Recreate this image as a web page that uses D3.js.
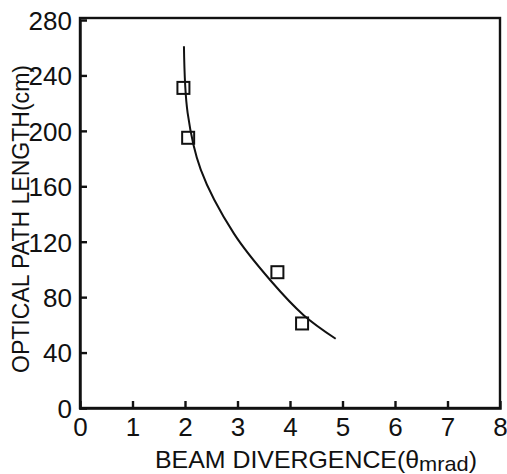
<!DOCTYPE html>
<html lang="en">
<head>
<meta charset="utf-8">
<title>Optical path length vs beam divergence</title>
<script src="https://cdn.jsdelivr.net/npm/d3@7"></script>
<style>
  body { margin: 0; background: white; }
  svg { display: block; background: white; }
  text {
    font-family: "Liberation Sans", Arial, sans-serif;
    fill: #111;
  }
  .axis path, .axis line { stroke: #111; stroke-width: 2.4; fill: none; }
  .frame { stroke: #111; stroke-width: 2.4; fill: none; }
  .fit { stroke: #111; stroke-width: 2; fill: none; }
  .pt { stroke: #111; stroke-width: 2; fill: none; }
</style>
</head>
<body>
<script>
// measured points (beam divergence mrad, path length cm)
var divergence = [1.97, 2.06, 3.76, 4.23];
var pathLength = [231, 195, 98, 61];

// hand drawn fitted curve
var curveX = [1.98, 2.05, 2.30, 2.93, 3.63, 4.26, 4.87];
var curveY = [261, 213, 172, 126, 92, 67, 50];

var xTicks = [0, 1, 2, 3, 4, 5, 6, 7, 8];
var yTicks = [0, 40, 80, 120, 160, 200, 240, 280];

var fullwidth = 507, fullheight = 474;
var margin = { top: 20, right: 7, bottom: 66, left: 80 };
var width = fullwidth - margin.left - margin.right;
var height = fullheight - margin.top - margin.bottom;

var svg = d3.select("body").append("svg")
    .attr("width", fullwidth)
    .attr("height", fullheight)
  .append("g")
    .attr("transform", "translate(" + margin.left + "," + margin.top + ")");

var xScale = d3.scaleLinear().domain([0, 8]).range([0, width]);
var yScale = d3.scaleLinear().domain([0, 280]).range([height, 0]);

// ticks point into the plot
var xAxis = d3.axisBottom(xScale).tickValues(xTicks).tickSize(-7).tickPadding(10)
    .tickFormat(d3.format("d"));
var yAxis = d3.axisLeft(yScale).tickValues(yTicks).tickSize(-7).tickPadding(8)
    .tickFormat(d3.format("d"));

svg.append("rect")
    .attr("class", "frame")
    .attr("x", 0).attr("y", -2)
    .attr("width", width).attr("height", height + 2);

var gx = svg.append("g")
    .attr("class", "x axis")
    .attr("transform", "translate(0," + height + ")")
    .call(xAxis);
gx.selectAll("text").style("font-size", "26px");

var gy = svg.append("g")
    .attr("class", "y axis")
    .call(yAxis);
gy.selectAll("text").style("font-size", "26px").attr("dy", "0.36em");

// edge ticks sit on the frame corners, hide them
gx.selectAll(".tick line").filter(function(d) { return d === 0 || d === 8; }).remove();
gy.selectAll(".tick line").filter(function(d) { return d === 0 || d === 280; }).remove();

var line = d3.line()
    .x(function(d) { return xScale(d[0]); })
    .y(function(d) { return yScale(d[1]); })
    .curve(d3.curveCatmullRom.alpha(0.5));

svg.append("path")
    .attr("class", "fit")
    .datum(d3.zip(curveX, curveY))
    .attr("d", line);

var sq = 12;
svg.selectAll("rect.pt")
    .data(d3.zip(divergence, pathLength))
  .enter().append("rect")
    .attr("class", "pt")
    .attr("x", function(d) { return xScale(d[0]) - sq / 2; })
    .attr("y", function(d) { return yScale(d[1]) - sq / 2; })
    .attr("width", sq)
    .attr("height", sq);

// axis titles
var xt = svg.append("text")
    .attr("x", 75)
    .attr("y", height + 60)
    .attr("textLength", 322)
    .attr("lengthAdjust", "spacingAndGlyphs")
    .style("font-size", "24px");
xt.append("tspan").text("BEAM DIVERGENCE(\u03b8");
xt.append("tspan").attr("dy", 3).style("font-size", "21px").text("mrad");
xt.append("tspan").attr("dy", -3).text(")");

svg.append("text")
    .attr("transform", "translate(-51," + (height / 2 + 5) + ") rotate(-90)")
    .attr("textLength", 308)
    .attr("lengthAdjust", "spacingAndGlyphs")
    .style("text-anchor", "middle")
    .style("font-size", "24px")
    .text("OPTICAL PATH LENGTH(cm)");
</script>
</body>
</html>
